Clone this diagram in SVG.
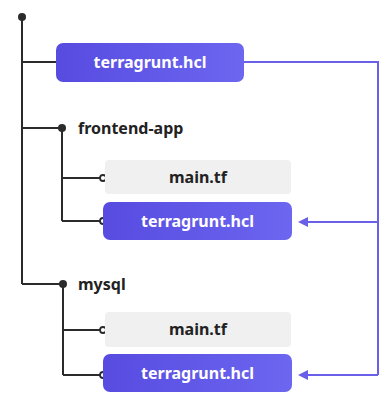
<svg xmlns="http://www.w3.org/2000/svg" width="389" height="419" viewBox="0 0 389 419">
  <defs>
    <linearGradient id="hclFill" x1="0" y1="0" x2="1" y2="0">
      <stop offset="0" stop-color="#574be0"/>
      <stop offset="1" stop-color="#6c66f0"/>
    </linearGradient>
    <marker id="arrow" viewBox="0 0 10 10" refX="8" refY="5" markerWidth="5" markerHeight="5" orient="auto" markerUnits="strokeWidth">
      <path d="M0,0 L10,5 L0,10 Z" fill="#6a5fe8"/>
    </marker>
  </defs>
  <style>
    .tree { fill: none; stroke: #2b2b2b; stroke-width: 2; }
    .link { fill: none; stroke: #6a5fe8; stroke-width: 2; }
    .dot { fill: #2b2b2b; }
    .ring { fill: #ffffff; stroke: #2b2b2b; stroke-width: 1.8; }
    .hcl rect { fill: url(#hclFill); }
    .tf rect { fill: #f0f0f0; }
    text { font-family: "Noto Sans", "Open Sans", sans-serif; font-weight: 700; font-size: 16px; }
    .hcl text { fill: #ffffff; text-anchor: middle; }
    .tf text { fill: #222222; text-anchor: middle; }
    .dir text { fill: #222222; }
  </style>
  <rect width="389" height="419" fill="#ffffff"/>

  <g id="connectors">
    <!-- folder tree -->
    <path class="tree" d="M22,17 V284 M22,62 H56 M22,128 H62 M62,128 V221 M62,178 H100 M62,221 H100 M22,284 H63 M63,284 V375 M63,330 H100 M63,375 H100"/>
    <circle class="dot" cx="22" cy="17" r="4"/>
    <circle class="dot" cx="62" cy="128" r="4"/>
    <circle class="dot" cx="63" cy="284" r="4"/>
    <circle class="ring" cx="103" cy="178" r="3"/>
    <circle class="ring" cx="103" cy="221" r="3"/>
    <circle class="ring" cx="103" cy="330" r="3"/>
    <circle class="ring" cx="103" cy="375" r="3"/>
    <!-- include links from the root config -->
    <path class="link" d="M244,62 H378 V375"/>
    <path class="link" d="M378,222 H300" marker-end="url(#arrow)"/>
    <path class="link" d="M378,375 H300" marker-end="url(#arrow)"/>
  </g>

  <g id="root-terragrunt" class="hcl">
    <rect x="56" y="43" width="188" height="39" rx="7"/>
    <text x="150" y="68">terragrunt.hcl</text>
  </g>

  <g id="frontend-app" class="dir">
    <text x="78" y="134">frontend-app</text>
  </g>
  <g id="frontend-main" class="tf">
    <rect x="105" y="160" width="186" height="34" rx="4"/>
    <text x="198" y="182.5">main.tf</text>
  </g>
  <g id="frontend-terragrunt" class="hcl">
    <rect x="103" y="202" width="189" height="38" rx="7"/>
    <text x="197.5" y="226.5">terragrunt.hcl</text>
  </g>

  <g id="mysql" class="dir">
    <text x="78" y="290">mysql</text>
  </g>
  <g id="mysql-main" class="tf">
    <rect x="105" y="312" width="186" height="35" rx="4"/>
    <text x="198" y="335">main.tf</text>
  </g>
  <g id="mysql-terragrunt" class="hcl">
    <rect x="103" y="354" width="189" height="38" rx="7"/>
    <text x="197.5" y="378.5">terragrunt.hcl</text>
  </g>
</svg>
